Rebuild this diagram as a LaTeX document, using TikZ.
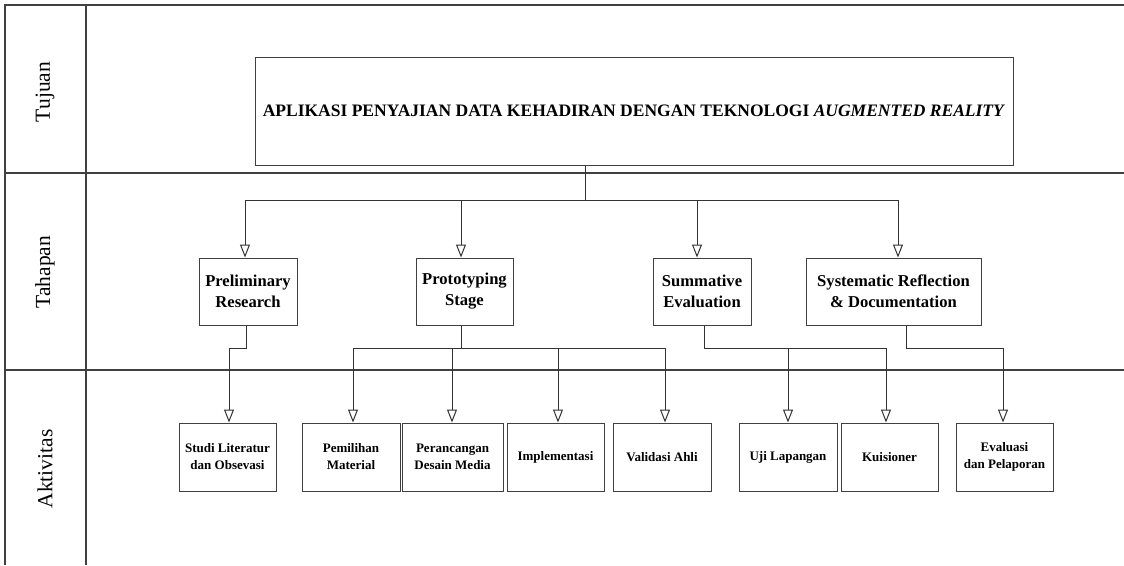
\documentclass[tikz,border=0pt]{standalone}
\usepackage{fontspec}
\setmainfont{Liberation Serif}
\usetikzlibrary{arrows.meta}

\tikzset{
  grid/.style = {draw=black!75, line width=1.2pt},
  box/.style = {draw=black!75, line width=1pt, inner sep=0pt, align=center},
  stage/.style = {box, minimum height=67pt, font=\fontsize{16.6}{21}\selectfont\bfseries},
  act/.style = {box, minimum height=68pt, font=\fontsize{13}{17}\selectfont\bfseries},
  lane/.style = {rotate=90, font=\fontsize{21.5}{24}\selectfont},
  link/.style = {draw=black!80, line width=1pt},
  arr/.style = {link, -{Triangle[open, length=13pt, width=10pt]}}
}

\begin{document}
\begin{tikzpicture}[x=1pt, y=-1pt]
    \useasboundingbox (0,0) rectangle (1124,565);

    % lanes
    \draw[grid] (1124,5) -- (5,5) -- (5,565);
    \draw[grid] (86,5) -- (86,565);
    \draw[grid] (5,173) -- (1124,173);
    \draw[grid] (5,370) -- (1124,370);
    \node[lane] (tujuan) at (45,92) {Tujuan};
    \node[lane] (tahapan) at (45,272) {Tahapan};
    \node[lane] (aktivitas) at (45,469) {Aktivitas};

    % goal
    \node[box, minimum width=758pt, minimum height=108pt, font=\fontsize{17.5}{20}\selectfont\bfseries] (goal) at (634,111)
      {APLIKASI PENYAJIAN DATA KEHADIRAN DENGAN TEKNOLOGI \textit{AUGMENTED REALITY}};

    % stages
    \node[stage, minimum width=98pt] (prelim) at (248,291.5) {Preliminary\\Research};
    \node[stage, minimum width=97pt] (proto) at (464.5,291.5) {Prototyping\\Stage};
    \node[stage, minimum width=98pt] (summ) at (702,291.5) {Summative\\Evaluation};
    \node[stage, minimum width=175pt] (refl) at (893.5,291.5) {Systematic Reflection\\\& Documentation};

    % activities
    \node[act, minimum width=97pt] (studi) at (227.5,457) {Studi Literatur\\dan Obsevasi};
    \node[act, minimum width=98pt] (pilih) at (351,457) {Pemilihan\\Material};
    \node[act, minimum width=101pt] (desain) at (452.5,457) {Perancangan\\Desain Media};
    \node[act, minimum width=97pt] (impl) at (555.5,457) {Implementasi};
    \node[act, minimum width=98pt] (valid) at (662,457) {Validasi Ahli};
    \node[act, minimum width=98pt] (uji) at (788,457) {Uji Lapangan};
    \node[act, minimum width=97pt] (kuis) at (889.5,457) {Kuisioner};
    \node[act, minimum width=97pt] (eval) at (1004.5,457) {Evaluasi\\dan Pelaporan};

    % goal -> stages
    \coordinate (top) at (585,200);
    \coordinate (t1) at (245,200);
    \coordinate (t4) at (898,200);
    \draw[link] (goal.south -| top) -- (top);
    \draw[link] (t1) -- (t4);
    \draw[arr] (t1) -- (t1 |- prelim.north);
    \draw[arr] (461,200) -- (461,200 |- proto.north);
    \draw[arr] (697,200) -- (697,200 |- summ.north);
    \draw[arr] (t4) -- (t4 |- refl.north);

    % preliminary -> studi
    \coordinate (p1) at (246,348);
    \coordinate (p2) at (229,348);
    \draw[arr] (prelim.south -| p1) -- (p1) -- (p2) -- (p2 |- studi.north);

    % prototyping -> four activities
    \coordinate (q0) at (461,348);
    \coordinate (q1) at (353,348);
    \coordinate (q2) at (452,348);
    \coordinate (q3) at (558,348);
    \coordinate (q4) at (665,348);
    \draw[link] (proto.south -| q0) -- (q0);
    \draw[link] (q1) -- (q4);
    \draw[arr] (q1) -- (q1 |- pilih.north);
    \draw[arr] (q2) -- (q2 |- desain.north);
    \draw[arr] (q3) -- (q3 |- impl.north);
    \draw[arr] (q4) -- (q4 |- valid.north);

    % summative -> uji, kuisioner
    \coordinate (s0) at (704,348);
    \coordinate (s1) at (788,348);
    \coordinate (s2) at (886,348);
    \draw[link] (summ.south -| s0) -- (s0) -- (s2);
    \draw[arr] (s1) -- (s1 |- uji.north);
    \draw[arr] (s2) -- (s2 |- kuis.north);

    % reflection -> evaluasi
    \coordinate (r0) at (906,348);
    \coordinate (r1) at (1003,348);
    \draw[arr] (refl.south -| r0) -- (r0) -- (r1) -- (r1 |- eval.north);
\end{tikzpicture}
\end{document}
